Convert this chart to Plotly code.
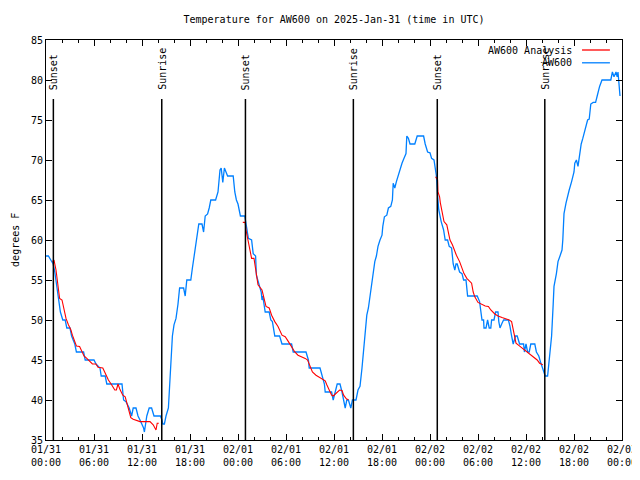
import pandas as pd
import plotly.graph_objects as go

BASE = pd.Timestamp("2025-01-31 00:00")

# AW600 observations: hours since 2025-01-31 00:00 UTC, temperature (F)
aw_hours = [0.0, 0.3, 0.6, 0.9, 1.1, 1.3, 1.5, 1.8, 2.1, 2.4, 2.6, 3.0, 3.2, 3.6, 3.8, 4.7, 4.9, 6.0, 6.25, 6.75,
            6.9, 7.4, 7.6, 9.5, 9.6, 9.7, 10.0, 10.2, 10.4, 10.7, 10.9, 11.25, 11.5, 11.75, 12.2, 12.3, 12.5, 12.6,
            12.9, 13.2, 13.5, 14.3, 14.5, 14.6, 14.8, 15.0, 15.3, 15.5, 15.6, 15.8, 16.0, 16.25, 16.5, 16.7, 17.2,
            17.4, 17.6, 18.1, 18.3, 18.5, 18.8, 19.1, 19.5, 19.7, 19.9, 20.2, 20.4, 20.6, 21.2, 21.5, 21.75, 21.9,
            22.1, 22.3, 22.5, 22.7, 23.4, 23.6, 23.8, 24.0, 24.2, 24.3, 24.85, 25.0, 25.2, 25.3, 25.7, 25.9, 26.2,
            26.3, 26.7, 26.9, 27.0, 27.1, 27.4, 27.9, 28.1, 28.3, 28.6, 29.2, 29.5, 30.7, 30.9, 32.5, 32.8, 32.9,
            34.25, 34.5, 34.8, 34.9, 35.7, 35.9, 36.25, 36.4, 36.75, 37.0, 37.4, 37.6, 37.8, 38.1, 38.3, 38.75,
            39.0, 39.25, 39.5, 39.7, 39.9, 40.1, 40.3, 40.5, 40.7, 40.9, 41.1, 41.3, 41.5, 41.75, 42.0, 42.1, 42.3,
            42.6, 42.8, 43.1, 43.3, 43.4, 43.6, 43.8, 44.0, 44.25, 44.5, 44.7, 45.0, 45.1, 45.3, 45.5, 46.1, 46.4,
            47.2, 47.4, 47.7, 48.0, 48.2, 48.5, 48.6, 48.8, 48.96, 49.1, 49.4, 49.7, 49.9, 50.2, 50.4, 50.7, 50.8,
            50.9, 51.1, 51.25, 51.4, 51.7, 52.0, 52.2, 52.5, 52.7, 53.9, 54.2, 54.3, 54.5, 54.7, 54.75, 55.0, 55.2,
            55.4, 55.6, 55.7, 56.0, 56.2, 56.5, 56.6, 56.75, 57.0, 57.2, 57.8, 58.0, 58.2, 58.4, 58.7, 58.9, 59.2,
            59.7, 59.8, 60.0, 60.2, 60.4, 60.6, 61.1, 61.3, 61.6, 61.8, 62.1, 62.4, 62.7, 62.8, 63.0, 63.2, 63.4,
            63.5, 63.8, 64.0, 64.25, 64.5, 64.6, 64.75, 65.0, 65.2, 65.4, 65.7, 66.0, 66.1, 66.3, 66.5, 66.7, 66.9,
            67.1, 67.4, 67.7, 67.9, 68.1, 68.4, 68.7, 68.9, 69.2, 69.5, 70.6, 70.8, 71.0, 71.25, 71.4, 71.5, 71.7,
            71.75]
aw_temps = [58, 58, 57.5, 57, 56, 54.6, 53, 51, 50, 50, 49, 49, 48, 47, 46, 46, 45, 45, 44.5, 44,
            43, 43, 42, 42, 41, 40, 39.8, 39.4, 39, 38, 39, 39, 38, 37.5, 36.5, 36, 37.5, 38,
            39, 39, 38, 38, 37.5, 37, 37, 38, 39, 42.5, 45, 48, 49.4, 50.2, 52, 54, 54,
            53, 55, 55, 56.5, 57.75, 60, 62, 62, 61, 63, 63.25, 64, 65, 65, 66, 68.75, 69,
            67.2, 69, 68.5, 68, 68, 66, 65, 64.5, 63.5, 63, 63, 61.8, 60.8, 60.2, 60, 58.3, 58,
            55.6, 54.2, 53.5, 52.5, 53, 51, 51, 50, 49.8, 48, 48, 47, 47, 46, 46, 45, 44,
            44, 43, 42, 41, 41, 40, 41.25, 42, 42, 41, 39, 40, 40, 39, 40, 40,
            41.25, 41.7, 44, 46, 48.5, 50.6, 51.5, 53, 54.6, 56.25, 57.3, 58, 59.2, 60, 60.6, 61.7, 62.9,
            63.1, 64, 64.2, 65, 67.1, 66.5, 67.3, 68, 68.75, 69.6, 70.1, 70.8, 73, 72.7, 72, 72, 73,
            73, 72, 71, 70.9, 70.2, 70, 69.4, 68, 65.4, 63.75, 62.3, 61.25, 60, 60, 59.2, 59, 58,
            57, 56.25, 57, 57, 56, 55.8, 55, 55, 53, 53, 52.3, 51.5, 50, 50, 49, 49, 50,
            49, 49, 50, 50, 51, 51, 49.8, 49, 49.6, 50, 50, 49.2, 48, 47, 48, 48, 47,
            47, 46, 47, 46, 46, 47, 47, 46, 45.5, 44.8, 44, 43, 43, 44, 45.8, 48, 52,
            54.2, 55.8, 57.3, 58, 58.75, 60, 63.3, 64.6, 65.5, 66.25, 67.3, 68.5, 69.6, 70, 69.2, 70.8, 72,
            72.7, 74, 75, 75.1, 77, 77.2, 77.2, 78, 79.2, 80, 80, 81, 80.4, 81, 80.4, 81, 79,
            78]

# AW600 Analysis (night-time segments; None separates segments)
an_hours = [0.8, 1.0, 1.25, 1.5, 1.7, 2.0, 2.25, 2.5, 2.8, 3.1, 3.3, 3.6, 3.8, 4.2, 4.5, 4.75, 5.1, 5.4, 5.8, 6.25,
            6.5, 7.1, 7.4, 7.8, 8.2, 8.6, 8.8, 9.0, 9.25, 9.6, 9.9, 10.1, 10.4, 10.6, 10.9, 11.3, 11.75, 13.0,
            13.4, 13.75, 13.9, 14.1, None,
            24.6, 24.9, 25.0, 25.3, 25.5, 25.7, 26.0, 26.25, 26.5, 27.0, 27.3, 27.5, 27.9, 28.2, 28.6, 29.0, 29.5,
            29.9, 30.3, 30.7, 31.1, 31.5, 32.0, 32.4, 32.7, 33.0, 33.3, 33.75, 34.2, 34.6, 34.9, 35.1, 35.4,
            35.7, 35.9, 36.25, 36.7, 37.0, 37.2, 37.5, 37.8, None,
            48.7, 48.95, 49.0, 49.2, 49.3, 49.5, 49.75, 50.1, 50.3, 50.5, 50.8, 51.0, 51.3, 51.7, 52.0, 52.25,
            52.6, 53.0, 53.2, 53.4, 53.6, 54.0, 54.5, 54.9, 55.3, 55.6, 56.1, 56.5, 57.0, 57.4, 57.9, 58.2, 58.5,
            58.75, 59.25, 59.75, 60.3, 60.7, 61.1, 61.4, 61.7, 62.1]
an_temps = [57.3, 57.5, 56.25, 54.6, 52.7, 52.5, 51.25, 50.2, 49.4, 48.8, 48.1, 47.3, 46.75, 46.7, 46.0, 45.5,
            45.2, 44.9, 44.5, 44.5, 44.1, 44.0, 43.3, 42.5, 41.9, 41.25, 41.25, 42, 41.3, 40.6, 40.4, 39.6, 38.75,
            37.8, 37.6, 37.5, 37.3, 37.3, 36.9, 36.25, 37.1, 37.1, None,
            62.2, 62.2, 61.25, 59.6, 58.75, 57.7, 57.7, 55.8, 54.4, 53.75, 52.7, 51.7, 51.5, 50.6, 49.8, 49.2,
            48.1, 47.9, 47.3, 46.7, 46.0, 45.6, 45.4, 45.2, 45, 44.25, 43.5, 43.1, 42.8, 42.5, 42.4, 41.9,
            41.25, 40.6, 40.5, 40.8, 41.25, 41.2, 40.6, 40.2, 40, None,
            67.9, 67.5, 66.0, 65.4, 64.6, 63.5, 62.3, 61.9, 60.8, 60, 59.4, 58.8, 58.1, 57.3, 56.5, 55.8, 55.2,
            54.8, 54.6, 53.5, 52.9, 52.2, 52, 51.75, 51.7, 51.25, 50.75, 50.5, 50.3, 50.2, 50, 49.8, 48.3, 47.1,
            46.7, 46.3, 45.9, 45.6, 45.3, 45, 44.6, 44.4, 44.25]

# Sun events
sun_hours = [0.92, 14.47, 24.93, 38.42, 48.91, 62.35]
sun_labels = ["Sunset", "Sunrise", "Sunset", "Sunrise", "Sunset", "Sunrise"]

TITLE = "Temperature for AW600 on 2025-Jan-31 (time in UTC)"
Y_TITLE = "degrees F"
SERIES_NAMES = ["AW600 Analysis", "AW600"]
COLORS = ["rgb(255,0,0)", "rgb(0,128,255)"]
FONT = "DejaVu Sans Mono"

# the page body adds an 8px offset; size the figure so the plot lands where the original does
FIG_W, FIG_H = 632, 472


def to_time(hours):
    return [None if h is None else BASE + pd.Timedelta(hours=h) for h in hours]


fig = go.Figure()
fig.add_trace(go.Scatter(x=to_time(aw_hours), y=aw_temps, mode="lines", name=SERIES_NAMES[1],
                         line=dict(color=COLORS[1], width=1.3), connectgaps=False))
fig.add_trace(go.Scatter(x=to_time(an_hours), y=an_temps, mode="lines", name=SERIES_NAMES[0],
                         line=dict(color=COLORS[0], width=1.1), connectgaps=False))

shapes = []
annotations = []
for t, lab in zip(to_time(sun_hours), sun_labels):
    shapes.append(dict(type="line", xref="x", yref="paper", x0=t, x1=t, y0=0, y1=0.8525,
                       line=dict(color="black", width=1.5)))
    annotations.append(dict(x=t, y=0.87, xref="x", yref="paper", text=lab, textangle=-90,
                            showarrow=False, xanchor="center", yanchor="bottom",
                            font=dict(family=FONT, size=10, color="black")))

# legend (text then sample line, as in the original)
leg_y = [0.975, 0.943]
for name, col, yy in zip(SERIES_NAMES, COLORS, leg_y):
    annotations.append(dict(x=0.9167, y=yy, xref="paper", yref="paper", text=name, showarrow=False,
                            xanchor="right", yanchor="middle",
                            font=dict(family=FONT, size=10, color="black")))
    shapes.append(dict(type="line", xref="paper", yref="paper", x0=0.9306, x1=0.979, y0=yy, y1=yy,
                       line=dict(color=col, width=1.3)))

# y-axis title, kept inside the figure (left edge of figure is 8px into the page)
annotations.append(dict(x=-0.054, y=0.5, xref="paper", yref="paper", text=Y_TITLE, textangle=-90,
                        showarrow=False, xanchor="center", yanchor="middle",
                        font=dict(family=FONT, size=10, color="black")))

fig.update_layout(
    width=FIG_W, height=FIG_H,
    margin=dict(l=38, r=18, t=32, b=40, autoexpand=False),
    paper_bgcolor="white", plot_bgcolor="white",
    showlegend=False,
    font=dict(family=FONT, size=10, color="black"),
    title=dict(text=TITLE, x=0.5, xref="paper", y=1 - 11 / FIG_H, yref="container",
               xanchor="center", yanchor="middle", font=dict(family=FONT, size=10, color="black")),
    shapes=shapes, annotations=annotations,
)
fig.update_xaxes(
    type="date",
    range=[BASE, BASE + pd.Timedelta(hours=72)],
    dtick=6 * 3600 * 1000, tick0=BASE,
    tickformat="%m/%d<br>%H:%M",
    ticks="inside", ticklen=6, tickcolor="black",
    minor=dict(dtick=2 * 3600 * 1000, ticks="inside", ticklen=3, tickcolor="black", showgrid=False),
    showline=True, linecolor="black", linewidth=1, mirror="ticks",
    showgrid=False, zeroline=False,
    tickfont=dict(family=FONT, size=10, color="black"),
)
fig.update_yaxes(
    range=[35, 85], dtick=5, tick0=35,
    ticks="inside", ticklen=6, tickcolor="black",
    showline=True, linecolor="black", linewidth=1, mirror="ticks",
    showgrid=False, zeroline=False,
    tickfont=dict(family=FONT, size=10, color="black"),
)

fig.write_html("out.html")
